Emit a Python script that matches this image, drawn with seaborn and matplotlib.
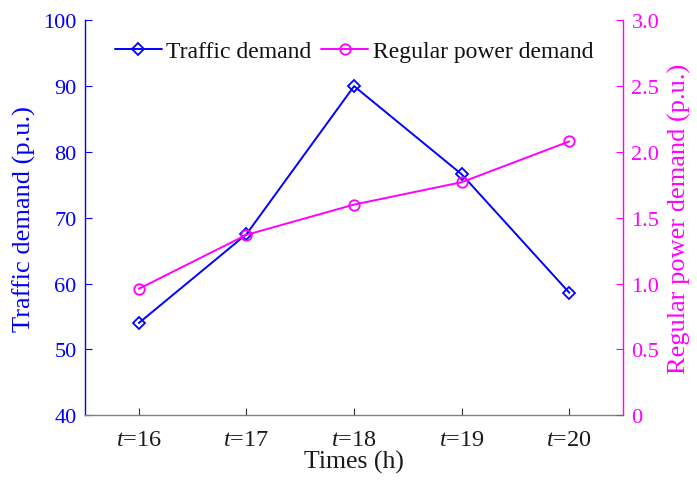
import matplotlib
matplotlib.use("Agg")
import matplotlib.pyplot as plt
import seaborn as sns
import pandas as pd

hours = [16, 17, 18, 19, 20]
tick_labels = ["$t$=16", "$t$=17", "$t$=18", "$t$=19", "$t$=20"]
traffic_demand = [54.0, 67.5, 90.0, 76.6, 58.6]
power_demand = [0.96, 1.37, 1.60, 1.77, 2.08]

sns.set_style("white")
plt.rcParams["font.family"] = ["Liberation Serif", "DejaVu Serif"]
plt.rcParams["mathtext.fontset"] = "custom"
plt.rcParams["mathtext.rm"] = "Liberation Serif"
plt.rcParams["mathtext.it"] = "Liberation Serif:italic"

BLUE = "#0000ff"
MAG = "#ff00ff"

df = pd.DataFrame({"hour": hours, "traffic": traffic_demand, "power": power_demand})

fig = plt.figure(figsize=(6.97, 4.85), dpi=100)
ax = fig.add_axes([0.122, 0.142, 0.772, 0.814])
ax2 = ax.twinx()

sns.lineplot(data=df, x="hour", y="traffic", ax=ax, color=BLUE, lw=1.4,
             marker="D", markersize=6.5, markerfacecolor="none",
             markeredgecolor=BLUE, markeredgewidth=1.3, label="Traffic demand", legend=False)
sns.lineplot(data=df, x="hour", y="power", ax=ax2, color=MAG, lw=1.4,
             marker="o", markersize=7.5, markerfacecolor="none",
             markeredgecolor=MAG, markeredgewidth=1.3, label="Regular power demand", legend=False)

ax.set_xlim(15.5, 20.5)
ax.set_ylim(40, 100)
ax2.set_ylim(0, 3.0)
ax.set_yticks([40, 50, 60, 70, 80, 90, 100])
ax2.set_yticks([0, 0.5, 1.0, 1.5, 2.0, 2.5, 3.0])
ax2.set_yticklabels(["0", "0.5", "1.0", "1.5", "2.0", "2.5", "3.0"])
ax.set_xticks(hours)
ax.set_xticklabels(tick_labels)

for a in (ax, ax2):
    a.spines["top"].set_visible(False)
    a.grid(False)
ax.spines["left"].set_color(BLUE)
ax.spines["right"].set_visible(False)
ax2.spines["left"].set_visible(False)
ax2.spines["right"].set_color(MAG)
ax.spines["bottom"].set_color("#808080")
ax2.spines["bottom"].set_visible(False)
for s in ("left", "bottom"):
    ax.spines[s].set_linewidth(1.0)
ax2.spines["right"].set_linewidth(1.0)

ax.tick_params(axis="y", direction="in", length=5, colors=BLUE, labelsize=16, left=True, pad=6)
ax.tick_params(axis="x", direction="in", length=5, color="#303030", labelcolor="#1a1a1a", labelsize=17.5, bottom=True, pad=10)
ax2.tick_params(axis="y", direction="in", length=5, colors=MAG, labelsize=16, right=True, pad=6)

ax.set_xlabel("Times (h)", fontsize=18.5, color="#1a1a1a", labelpad=0)
ax.set_ylabel("Traffic demand (p.u.)", fontsize=19, color=BLUE, labelpad=5)
ax2.set_ylabel("Regular power demand (p.u.)", fontsize=19, color=MAG, labelpad=6)

h1, l1 = ax.get_legend_handles_labels()
h2, l2 = ax2.get_legend_handles_labels()
leg = ax2.legend(h1 + h2, l1 + l2, loc="upper center", bbox_to_anchor=(0.5, 0.99), ncol=2,
                 frameon=False, fontsize=17, handlelength=2.0, handletextpad=0.2,
                 columnspacing=0.4, borderaxespad=0.3)
for t in leg.get_texts():
    t.set_color("#111111")

fig.savefig("out.png", dpi=100)
